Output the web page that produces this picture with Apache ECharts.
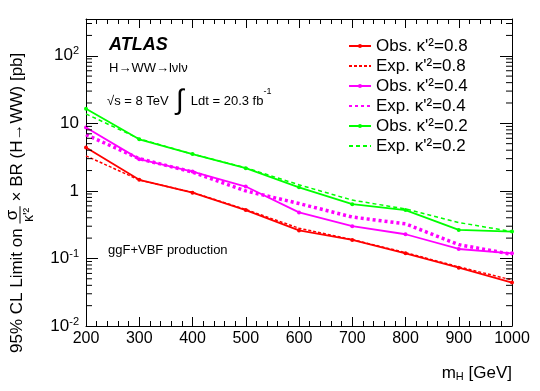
<!DOCTYPE html>
<html>
<head>
<meta charset="utf-8">
<script src="https://cdn.jsdelivr.net/npm/echarts@6/dist/echarts.min.js"></script>
<style>
  html, body { margin: 0; padding: 0; background: #fff; }
  #chart { width: 540px; height: 391px; }
</style>
</head>
<body>
<div id="chart"></div>
<script>
// Higgs mass points [GeV]
const masses = [200, 300, 400, 500, 600, 700, 800, 900, 1000];

// 95% CL limits [pb]
const obs08 = [4.4, 1.46, 0.94, 0.52, 0.26, 0.188, 0.119, 0.073, 0.044];
const exp08 = [3.3, 1.45, 0.95, 0.53, 0.28, 0.19, 0.122, 0.075, 0.048];
const obs04 = [8.7, 2.95, 1.93, 1.16, 0.48, 0.30, 0.228, 0.138, 0.119];
const exp04 = [6.8, 3.0, 1.9, 1.0, 0.65, 0.41, 0.325, 0.16, 0.115];
const obs02 = [16.4, 5.8, 3.5, 2.17, 1.13, 0.635, 0.52, 0.264, 0.25];
const exp02 = [13.8, 5.9, 3.5, 2.2, 1.23, 0.73, 0.54, 0.34, 0.25];

const xTicks = [200, 300, 400, 500, 600, 700, 800, 900, 1000];
const legendNames = ["Obs. κ'²=0.8", "Exp. κ'²=0.8", "Obs. κ'²=0.4", "Exp. κ'²=0.4", "Obs. κ'²=0.2", "Exp. κ'²=0.2"];

const FONT = "'Liberation Sans', Arial, Helvetica, sans-serif";
const pairs = (ys) => masses.map((m, i) => [m, ys[i]]);

// minor ticks of the log axis (2..9 x 10^n)
const minorY = [];
for (let e = -2; e <= 2; e++) {
  for (let k = 2; k <= 9; k++) {
    const v = k * Math.pow(10, e);
    if (v < 350) minorY.push(v);
  }
}

const measure = (() => {
  const ctx = document.createElement("canvas").getContext("2d");
  return (text, size) => { ctx.font = size + "px " + FONT; return ctx.measureText(text).width; };
})();

const chart = echarts.init(document.getElementById("chart"), null, { renderer: "canvas" });

const yLabel = (v) => {
  const e = Math.round(Math.log10(v));
  if (Math.abs(Math.log10(v) - e) > 0.01) return "";
  if (e === 0) return "1";
  if (e === 1) return "10";
  return "10{sup|" + e + "}";
};

const obsLine = (name, data, color) => ({
  name, type: "line", data, color,
  symbol: "circle", symbolSize: 4,
  lineStyle: { width: 1.8, color },
  itemStyle: { color },
  animation: false,
});
const expLine = (name, data, color, width, dash) => ({
  name, type: "line", data, color,
  symbol: "none",
  lineStyle: { width, color, type: dash },
  animation: false,
});
// short horizontal marks on the frame, one per minor tick value
const tickMarks = (x, offset) => ({
  type: "scatter",
  silent: true,
  clip: false,
  data: minorY.map((v) => [x, v]),
  symbol: "rect",
  symbolSize: [6, 1],
  symbolOffset: [offset, 0],
  itemStyle: { color: "#000", opacity: 1 },
  z: 3,
  animation: false,
});

// y axis title pieces
const t1 = "95% CL Limit on ";
const t2 = " × BR (H→WW) [pb]";
const w1 = measure(t1, 17);
const fw = Math.max(measure("σ", 17), measure("κ'²", 14)) + 3;

const graphics = [
  { type: "text", left: 109, top: 36, style: { text: "ATLAS", font: "italic bold 18px " + FONT, fill: "#000" } },
  { type: "text", x: 109, y: 68, style: { text: "H→WW→lνlν", fontSize: 13, fontFamily: FONT, fill: "#000", verticalAlign: "middle" } },
  {
    type: "text", x: 107, y: 101,
    style: {
      text: "√s = 8 TeV  {int|∫}  Ldt = 20.3 fb{sup|-1}",
      fontSize: 13, fontFamily: FONT, fill: "#000", verticalAlign: "middle",
      rich: {
        int: { fontSize: 28, fontFamily: FONT },
        sup: { fontSize: 9, fontFamily: FONT, verticalAlign: "top", padding: [0, 0, 12, 0] },
      },
    },
  },
  { type: "text", x: 108, y: 250, style: { text: "ggF+VBF production", fontSize: 13, fontFamily: FONT, fill: "#000", verticalAlign: "middle" } },
  {
    type: "text", x: 512, y: 373,
    style: {
      text: "m{sub|H} [GeV]", fontSize: 17, fontFamily: FONT, fill: "#000", align: "right", verticalAlign: "middle",
      rich: { sub: { fontSize: 11, fontFamily: FONT, verticalAlign: "bottom", padding: [8, 0, 0, 0] } },
    },
  },
  {
    type: "group", x: 17, y: 353, rotation: Math.PI / 2,
    children: [
      { type: "text", x: 0, y: 0, style: { text: t1, fontSize: 17, fontFamily: FONT, fill: "#000", verticalAlign: "middle" } },
      { type: "text", x: w1 + fw / 2, y: -5, style: { text: "σ", fontSize: 17, fontFamily: FONT, fill: "#000", align: "center", verticalAlign: "middle" } },
      { type: "line", shape: { x1: w1, y1: 3, x2: w1 + fw, y2: 3 }, style: { stroke: "#000", lineWidth: 1 } },
      { type: "text", x: w1 + fw / 2, y: 12, style: { text: "κ'²", fontSize: 14, fontFamily: FONT, fill: "#000", align: "center", verticalAlign: "middle" } },
      { type: "text", x: w1 + fw, y: 0, style: { text: t2, fontSize: 17, fontFamily: FONT, fill: "#000", verticalAlign: "middle" } },
    ],
  },
];

const option = {
  backgroundColor: "#fff",
  animation: false,
  grid: { left: 86, right: 28, top: 19, bottom: 65 },
  legend: {
    data: legendNames.map((n, i) => (i % 2 === 1 ? { name: n, itemStyle: { opacity: 0 } } : { name: n })),
    orient: "vertical",
    left: 348,
    top: 37,
    padding: 0,
    itemWidth: 22,
    itemHeight: 5,
    itemGap: 2,
    textStyle: { fontSize: 17, fontFamily: FONT, color: "#000", lineHeight: 18 },
  },
  xAxis: [
    {
      type: "value", min: 200, max: 1000, interval: 100,
      axisLine: { lineStyle: { color: "#000", width: 1 } },
      axisTick: { inside: true, length: 9, lineStyle: { color: "#000" } },
      minorTick: { show: true, splitNumber: 5, length: 5, lineStyle: { color: "#000" } },
      axisLabel: { fontSize: 16, fontFamily: FONT, color: "#000", margin: 5,
        formatter: (v) => (xTicks.includes(v) ? String(v) : "") },
      splitLine: { show: false },
    },
    {
      type: "value", position: "top", min: 200, max: 1000, interval: 100,
      axisLine: { lineStyle: { color: "#000", width: 1 } },
      axisTick: { inside: true, length: 9, lineStyle: { color: "#000" } },
      minorTick: { show: true, splitNumber: 5, length: 5, lineStyle: { color: "#000" } },
      axisLabel: { show: false },
      splitLine: { show: false },
    },
  ],
  yAxis: [
    {
      type: "log", min: 0.01, max: 350,
      axisLine: { show: true, lineStyle: { color: "#000", width: 1 } },
      axisTick: { inside: true, length: 12, lineStyle: { color: "#000" } },
      axisLabel: {
        fontSize: 17, fontFamily: FONT, color: "#000", margin: 7,
        showMaxLabel: false,
        formatter: yLabel,
        rich: { sup: { fontSize: 11, fontFamily: FONT, verticalAlign: "top", padding: [0, 0, 9, 0] } },
      },
      splitLine: { show: false },
    },
    {
      type: "log", position: "right", min: 0.01, max: 350,
      axisLine: { show: true, lineStyle: { color: "#000", width: 1 } },
      axisTick: { inside: true, length: 12, lineStyle: { color: "#000" } },
      axisLabel: { show: false },
      splitLine: { show: false },
    },
  ],
  series: [
    obsLine(legendNames[0], pairs(obs08), "#ff0000"),
    expLine(legendNames[1], pairs(exp08), "#ff0000", 1.5, [3, 2]),
    obsLine(legendNames[2], pairs(obs04), "#ff00ff"),
    expLine(legendNames[3], pairs(exp04), "#ff00ff", 3.5, [3, 3]),
    obsLine(legendNames[4], pairs(obs02), "#00ff00"),
    expLine(legendNames[5], pairs(exp02), "#00ff00", 1.5, [4, 3]),
    tickMarks(200, 3),
    tickMarks(1000, -3),
  ],
  graphic: graphics,
};

chart.setOption(option);
</script>
</body>
</html>
